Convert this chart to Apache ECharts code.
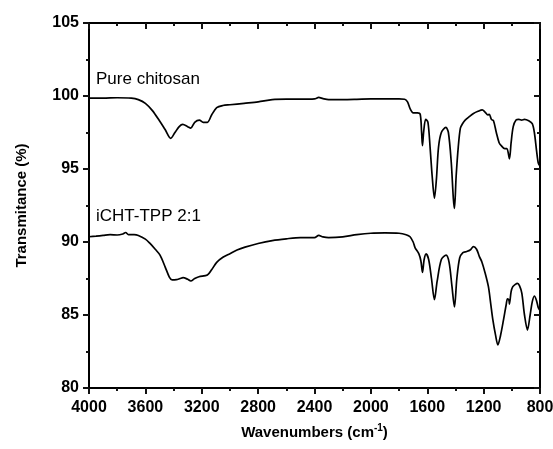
<!DOCTYPE html>
<html>
<head>
<meta charset="utf-8">
<script src="https://cdn.jsdelivr.net/npm/echarts@6/dist/echarts.min.js"></script>
<style>html,body{margin:0;padding:0;background:#fff}#c{width:553px;height:449px}</style>
</head>
<body>
<div id="c"></div>
<script>
const xTicks = [4000, 3600, 3200, 2800, 2400, 2000, 1600, 1200, 800];
const yTicks = [80, 85, 90, 95, 100, 105];
const seriesNames = ['Pure chitosan', 'iCHT-TPP 2:1'];

const pureWn = [4000,3900,3800,3700,3650,3600,3550,3500,3460,3420,3390,3360,3335,3300,3278,3250,3217,3190,3160,3130,3094,3050,3000,2900,2800,2700,2600,2500,2400,2370,2340,2300,2200,2100,2000,1900,1800,1760,1740,1720,1700,1670,1650,1640,1634,1625,1611,1595,1580,1565,1549,1535,1520,1500,1468,1450,1430,1415,1407,1395,1380,1365,1350,1331,1300,1272,1240,1210,1190,1170,1160,1145,1130,1110,1090,1075,1050,1035,1017,1005,990,970,950,930,910,880,855,840,825,812,800];
const pureT = [99.85,99.85,99.88,99.85,99.75,99.5,99.0,98.3,97.7,97.1,97.5,97.9,98.05,97.9,97.8,98.2,98.35,98.2,98.2,98.7,99.2,99.35,99.4,99.5,99.6,99.75,99.78,99.78,99.8,99.9,99.82,99.75,99.75,99.77,99.8,99.8,99.8,99.78,99.6,99.1,98.85,98.85,98.75,97.5,96.6,97.6,98.4,98.2,96.5,94.5,93.0,94.3,96.5,97.5,97.85,97.5,95.5,93.0,92.3,94.5,96.5,97.8,98.1,98.35,98.6,98.8,98.95,99.05,98.9,98.7,98.75,98.4,98.3,97.5,96.8,96.6,96.4,96.4,95.7,96.8,97.9,98.35,98.4,98.35,98.4,98.3,98.1,97.5,96.3,95.4,95.2];

const ichtWn = [4000,3950,3900,3850,3800,3760,3740,3720,3680,3650,3600,3567,3530,3496,3460,3430,3410,3380,3354,3333,3300,3278,3250,3220,3160,3130,3094,3050,3000,2950,2893,2800,2700,2600,2500,2400,2370,2340,2300,2200,2100,2000,1900,1800,1750,1722,1700,1686,1660,1645,1634,1622,1608,1590,1570,1549,1530,1500,1466,1445,1425,1407,1390,1370,1347,1320,1296,1272,1250,1230,1213,1190,1166,1150,1135,1115,1099,1080,1059,1040,1031,1020,1017,1005,993,975,960,945,929,910,889,870,855,840,825,812,800];
const ichtT = [90.36,90.4,90.45,90.5,90.48,90.55,90.65,90.5,90.5,90.45,90.2,89.9,89.5,89.1,88.3,87.6,87.4,87.42,87.5,87.56,87.45,87.33,87.5,87.62,87.74,88.1,88.6,88.95,89.2,89.45,89.65,89.9,90.1,90.22,90.3,90.3,90.45,90.35,90.3,90.35,90.5,90.6,90.62,90.6,90.5,90.36,90.0,89.6,89.2,88.7,87.92,88.8,89.18,88.8,87.5,86.05,87.3,88.8,89.1,88.6,87.0,85.55,87.5,88.9,89.27,89.35,89.45,89.68,89.5,89.0,88.65,87.9,86.94,85.8,84.7,83.6,82.95,83.6,84.66,85.7,86.1,86.0,85.75,86.6,86.94,87.1,87.17,87.0,86.5,85.0,83.97,85.0,85.9,86.3,86.0,85.5,85.3];

const zip = (a, b) => a.map((v, i) => [v, b[i]]);
const font = 'Arial, "Liberation Sans", sans-serif';
const tickColor = '#111111';
const xMin = xTicks[xTicks.length - 1], xMax = xTicks[0];
const yMin = yTicks[0], yMax = yTicks[yTicks.length - 1];

function xAx(pos, inside, interval, len, showLine) {
  return {
    type: 'value', min: xMin, max: xMax, interval: interval, inverse: true, position: pos,
    axisLine: {show: showLine, lineStyle: {color: '#000', width: 2}},
    splitLine: {show: false}, axisLabel: {show: false},
    axisTick: {show: true, inside: inside, length: len, lineStyle: {color: tickColor, width: 2}}
  };
}
function yAx(pos, inside, interval, len, showLine) {
  return {
    type: 'value', min: yMin, max: yMax, interval: interval, position: pos,
    axisLine: {show: showLine, lineStyle: {color: '#000', width: 2}},
    splitLine: {show: false}, axisLabel: {show: false},
    axisTick: {show: true, inside: inside, length: len, lineStyle: {color: tickColor, width: 2}}
  };
}
const xb = xAx('bottom', false, 400, 6, true);
xb.axisLabel = {show: true, color: '#000', fontWeight: 'bold', fontSize: 16, fontFamily: font, margin: 12, formatter: v => String(v)};
xb.name = '{t|Wavenumbers (cm}{s|-1}{t|)}';
xb.nameLocation = 'middle'; xb.nameGap = 35; xb.nameMoveOverlap = false;
xb.nameTextStyle = {rich: {
  t: {fontWeight: 'bold', fontSize: 15, fontFamily: font, color: '#000'},
  s: {fontWeight: 'bold', fontSize: 10, fontFamily: font, color: '#000', verticalAlign: 'top', padding: [0, 0, 10, 0]}
}};
const xt = xAx('top', true, 400, 6, true);
const xbm = xAx('bottom', false, 200, 3, false);
const xtm = xAx('top', true, 200, 3, false);
const yl = yAx('left', false, 5, 6, true);
yl.axisLabel = {show: true, color: '#000', fontWeight: 'bold', fontSize: 16, fontFamily: font, margin: 10, formatter: v => String(v)};
yl.name = 'Transmitance (%)'; yl.nameLocation = 'middle'; yl.nameGap = 60; yl.nameMoveOverlap = false;
yl.nameTextStyle = {fontWeight: 'bold', fontSize: 15, fontFamily: font, color: '#000'};
const yr = yAx('right', true, 5, 6, true);
const ylm = yAx('left', false, 2.5, 3, false);
const yrm = yAx('right', true, 2.5, 3, false);

const chart = echarts.init(document.getElementById('c'), null, {renderer: 'canvas'});
chart.setOption({
  animation: false,
  backgroundColor: '#fff',
  grid: {left: 89, right: 13, top: 23, bottom: 61, outerBoundsMode: 'none'},
  xAxis: [xb, xt, xbm, xtm],
  yAxis: [yl, yr, ylm, yrm],
  series: [
    {name: seriesNames[0], type: 'line', data: zip(pureWn, pureT), showSymbol: false, smooth: 0.3,
     lineStyle: {color: '#000', width: 1.7}, xAxisIndex: 0, yAxisIndex: 0},
    {name: seriesNames[1], type: 'line', data: zip(ichtWn, ichtT), showSymbol: false, smooth: 0.3,
     lineStyle: {color: '#000', width: 1.7}, xAxisIndex: 0, yAxisIndex: 0}
  ],
  graphic: [
    {type: 'text', left: 96, top: 71, style: {text: seriesNames[0], fontSize: 17, fontFamily: font, fill: '#000'}},
    {type: 'text', left: 96, top: 208, style: {text: seriesNames[1], fontSize: 17, fontFamily: font, fill: '#000'}}
  ]
});
</script>
</body>
</html>
